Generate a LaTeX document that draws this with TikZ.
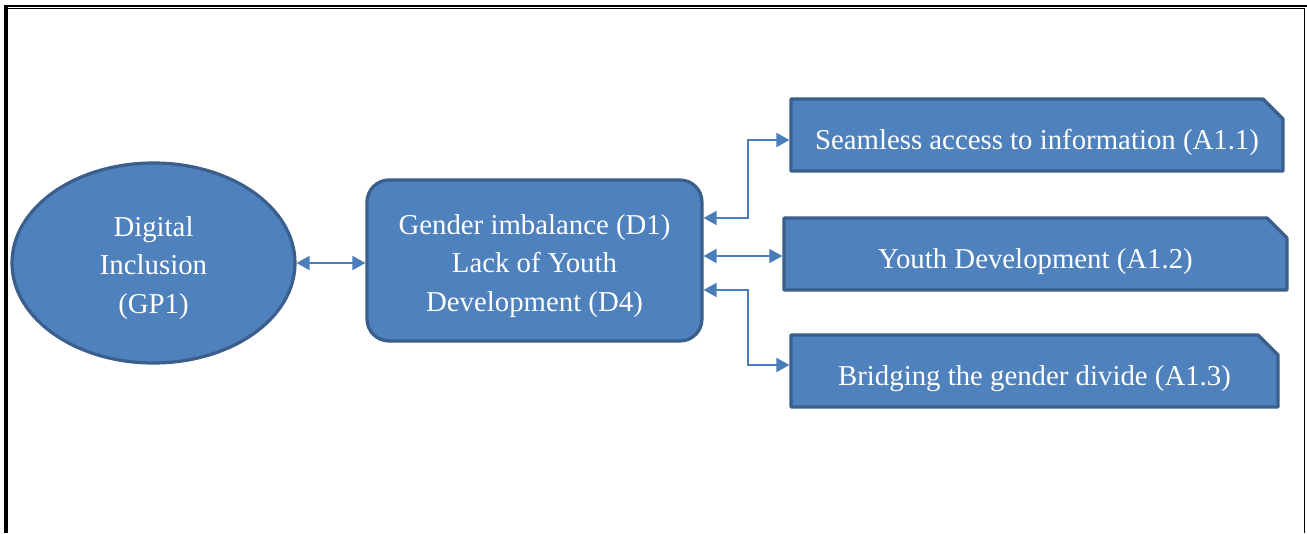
\documentclass[tikz,border=0pt]{standalone}
\usepackage{fontspec}
\setmainfont{Liberation Serif}
\usetikzlibrary{shapes.geometric,shapes.misc,arrows.meta,calc}
\definecolor{boxfill}{HTML}{4F81BD}
\definecolor{boxline}{HTML}{3A5F8C}
\definecolor{linkcol}{HTML}{4A7EBB}
% lower the glyphs inside an unchanged box, so the text sits a little low in its shape
\newcommand{\lowtext}[2]{\raisebox{-#1}[\height][\depth]{#2}}
\newcommand{\linesdown}[2]{\lowtext{#1}{\begin{tabular}{@{}c@{}}#2\end{tabular}}}
\begin{document}
\begin{tikzpicture}[x=1pt,y=-1pt,
  every node/.style={text=white, font=\fontsize{28.8}{38.5}\selectfont, align=center, inner sep=0pt},
  shapebase/.style={fill=boxfill, draw=boxline, line width=3.2pt, line join=round},
  goal/.style={shapebase, ellipse, minimum width=283pt, minimum height=200pt},
  driver/.style={shapebase, rectangle, rounded corners=22pt, minimum width=335pt, minimum height=161pt},
  action/.style={shapebase, chamfered rectangle, chamfered rectangle corners=north east,
    chamfered rectangle xsep=10pt, chamfered rectangle ysep=10pt, minimum height=72pt},
  conn/.style={draw=linkcol, line width=1.8pt, {Triangle[length=13pt,width=14pt]}-{Triangle[length=13pt,width=14pt]}}
]
\useasboundingbox (0,0) rectangle (1307,533);
\fill[white] (0,0) rectangle (1307,533);

% page frame
\draw[line width=2pt] (4,5.7) -- (1307,5.7);
\draw[line width=1.2pt] (8,8.7) -- (1305,8.7);
\draw[line width=3.6pt] (6,4.7) -- (6,533);
\draw[line width=1.5pt] (1304.5,8.7) -- (1304.5,533);

% nodes
\node[goal] (gp) at (153.5,263) {\linesdown{4pt}{Digital\\Inclusion\\(GP1)}};
\node[driver] (d) at (534.5,260.5) {\linesdown{4.5pt}{Gender imbalance (D1)\\Lack of Youth\\Development (D4)}};
\node[action, minimum width=492pt] (a1) at (1037,135) {\lowtext{7.5pt}{Seamless access to information (A1.1)}};
\node[action, minimum width=503pt] (a2) at (1035.5,254) {\lowtext{7.5pt}{Youth Development (A1.2)}};
\node[action, minimum width=487pt] (a3) at (1034.5,371) {\lowtext{7.5pt}{Bridging the gender divide (A1.3)}};

% connectors
\draw[conn] (gp.east) -- (gp.east -| d.west);
\draw[conn] ([yshift=42.5pt]d.east) -- ++(44,0) |- ([yshift=-5pt]a1.west);
\draw[conn] ([yshift=4.5pt]d.east) -- ([yshift=4.5pt]d.east -| a2.west);
\draw[conn] ([yshift=-29.5pt]d.east) -- ++(44,0) |- ([yshift=6pt]a3.west);
\end{tikzpicture}
\end{document}
